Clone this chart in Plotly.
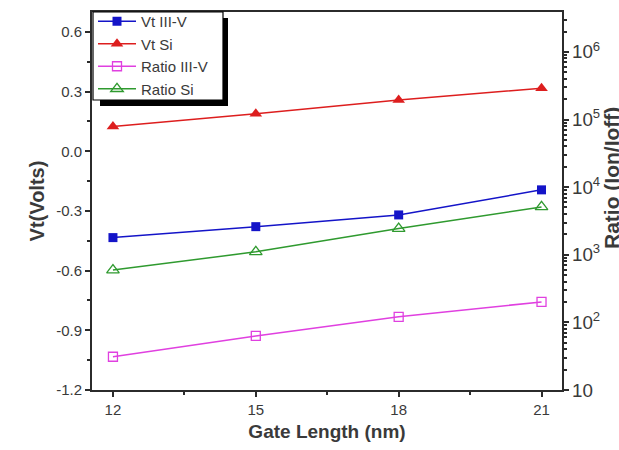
import plotly.graph_objects as go

gate_length = [12, 15, 18, 21]
vt_iii_v = [-0.434, -0.379, -0.32, -0.194]
vt_si = [0.124, 0.188, 0.258, 0.317]
ratio_iii_v = [31, 63, 121, 201]
ratio_si = [593, 1104, 2443, 5100]

left_ticks = [0.6, 0.3, 0.0, -0.3, -0.6, -0.9, -1.2]
left_labels = ["0.6", "0.3", "0.0", "-0.3", "-0.6", "-0.9", "-1.2"]
x_ticks = [12, 15, 18, 21]

FONT = "Liberation Sans, Arial, sans-serif"
AX = "#2b2b2b"
TXT = "#3a3a3a"

# plot area in pixels (for converting legend box to paper coords)
L, R, T, B = 92, 562, 12, 390
def px(x):
    return (x - L) / (R - L)
def py(y):
    return (B - y) / (B - T)

fig = go.Figure()
fig.add_trace(go.Scatter(x=gate_length, y=vt_iii_v, name="Vt III-V", mode="lines+markers",
                         line=dict(color="#1414c8", width=1.5),
                         marker=dict(symbol="square", size=9, color="#1414c8")))
fig.add_trace(go.Scatter(x=gate_length, y=vt_si, name="Vt Si", mode="lines+markers",
                         line=dict(color="#dd1e1e", width=1.5),
                         marker=dict(symbol="triangle-up", size=11, color="#dd1e1e")))
fig.add_trace(go.Scatter(x=gate_length, y=ratio_iii_v, name="Ratio III-V", mode="lines+markers",
                         yaxis="y2",
                         line=dict(color="#e040e0", width=1.5),
                         marker=dict(symbol="square-open", size=9, color="#e040e0", line=dict(width=1.3))))
fig.add_trace(go.Scatter(x=gate_length, y=ratio_si, name="Ratio Si", mode="lines+markers",
                         yaxis="y2",
                         line=dict(color="#2f9a2f", width=1.5),
                         marker=dict(symbol="triangle-up-open", size=11, color="#2f9a2f", line=dict(width=1.3))))

fig.update_layout(
    width=619, height=450,
    margin=dict(l=L, r=619 - R, t=T, b=450 - B, autoexpand=False),
    plot_bgcolor="white", paper_bgcolor="white",
    font=dict(family=FONT, color=TXT, size=15),
    showlegend=True,
    legend=dict(x=px(93), y=py(5), xanchor="left", yanchor="top",
                bgcolor="rgba(0,0,0,0)", borderwidth=0,
                font=dict(family=FONT, size=15, color=TXT),
                tracegroupgap=0, itemwidth=38),
    xaxis=dict(range=[11.56, 21.43], tickvals=x_ticks, ticks="outside", ticklen=5, tickwidth=1.5,
               tickcolor=AX, showline=True, linecolor=AX, linewidth=2, mirror=True,
               showgrid=False, zeroline=False,
               tickfont=dict(size=15, color=TXT),
               minor=dict(ticks="outside", ticklen=3, dtick=1.5, tick0=12, tickcolor=AX),
               title=dict(text="<b>Gate Length (nm)</b>", font=dict(size=19, color=TXT), standoff=8)),
    xaxis2=dict(range=[11.56, 21.43], overlaying="x", side="top", tickvals=x_ticks,
                ticks="inside", ticklen=5, tickcolor=AX, showticklabels=False,
                showgrid=False, zeroline=False, showline=False,
                minor=dict(ticks="inside", ticklen=3, dtick=1.5, tick0=12, tickcolor=AX)),
    yaxis=dict(range=[-1.2, 0.70], tickvals=left_ticks, ticktext=left_labels,
               ticks="outside", ticklen=5, tickwidth=1.5, tickcolor=AX,
               showline=True, linecolor=AX, linewidth=2, mirror=False,
               showgrid=False, zeroline=False, tickfont=dict(size=15, color=TXT),
               minor=dict(ticks="outside", ticklen=3, dtick=0.15, tick0=0, tickcolor=AX),
               title=dict(text="<b>Vt(Volts)</b>", font=dict(size=20, color=TXT), standoff=6)),
    yaxis2=dict(type="log", range=[1, 6.59], overlaying="y", side="right",
                dtick=1, exponentformat="power", showexponent="all",
                ticks="outside", ticklen=5, tickwidth=1.5, tickcolor=AX,
                showline=True, linecolor=AX, linewidth=2,
                showgrid=False, zeroline=False, tickfont=dict(size=15, color=TXT),
                minor=dict(ticks="outside", ticklen=3, tickcolor=AX, showgrid=False)),
    shapes=[
        dict(type="rect", xref="paper", yref="paper",
             x0=px(100), x1=px(228), y0=py(106), y1=py(18),
             fillcolor="black", line=dict(width=0), layer="above"),
        dict(type="rect", xref="paper", yref="paper",
             x0=px(93), x1=px(223), y0=py(100), y1=py(12),
             fillcolor="white", line=dict(color="black", width=1.2), layer="above"),
    ],
    annotations=[dict(text="<b>Ratio (Ion/Ioff)</b>", xref="paper", yref="paper",
                      x=px(611), y=py(178), textangle=-90, showarrow=False,
                      font=dict(size=21, color=TXT), xanchor="center", yanchor="middle")],
)

fig.write_html("out.html")
